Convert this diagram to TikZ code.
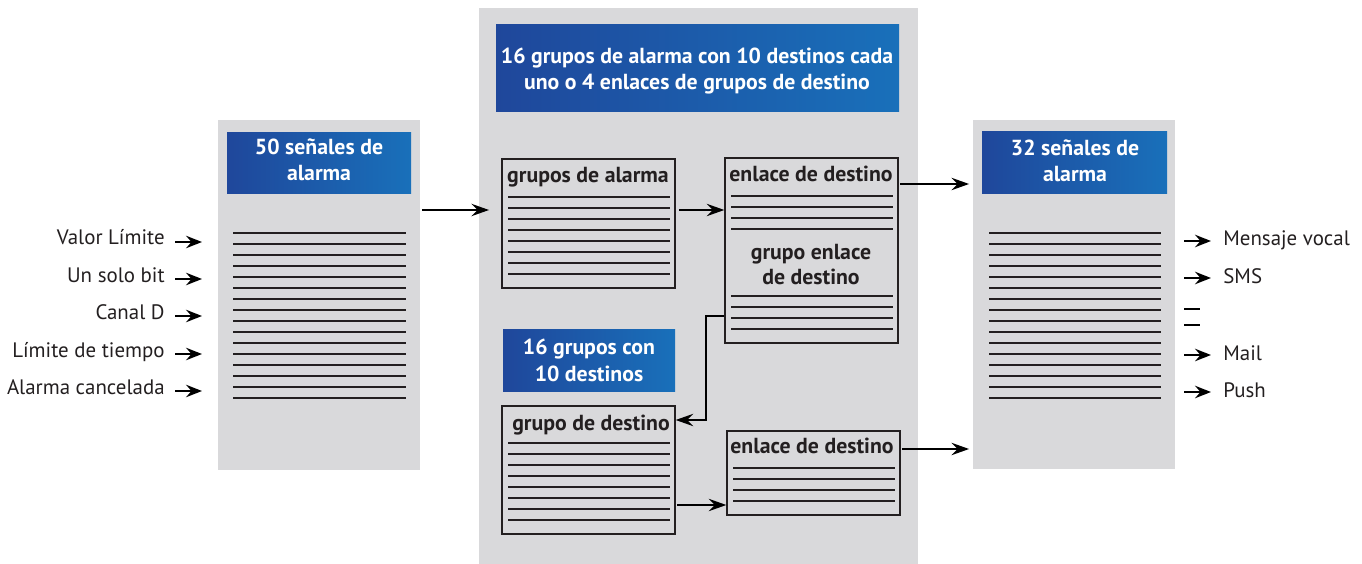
\documentclass[tikz,border=0pt]{standalone}
\usepackage{fontspec}
\setmainfont{PT Sans}
\usepackage{tikz}
\usetikzlibrary{arrows.meta,positioning,fit}
\definecolor{panelgray}{RGB}{217,217,219}
\definecolor{hdrdark}{RGB}{31,71,155}
\definecolor{hdrlight}{RGB}{25,112,186}
\definecolor{inkgray}{RGB}{35,31,32}
\tikzset{panel/.style={fill=panelgray,draw=none,inner sep=0},
    header/.style={left color=hdrdark,right color=hdrlight,draw=none,inner sep=0},
    headtext/.style={text=white,align=center,inner sep=0,anchor=base,
        font=\bfseries\fontsize{12.4}{15.2}\selectfont},
    listbox/.style={draw=inkgray,line width=0.75pt,inner sep=0},
    boxtitle/.style={text=inkgray,align=center,inner sep=0,anchor=base,
        font=\bfseries\fontsize{12.4}{14.2}\selectfont},
    sidelabel/.style={text=inkgray,inner sep=0,font=\fontsize{11.9}{14}\selectfont},
    ruling/.style={draw=inkgray,line width=0.6pt},
    flow/.style={-{Stealth[length=10pt,width=7pt,inset=3.5pt]},line width=1.5pt},
    tinyflow/.style={-{Stealth[length=9pt,width=7pt,inset=3pt]},line width=1.5pt}
}
\newcommand{\rulelines}[4]
{
% args: (number of lines, left x, right x, y of first line)
    \foreach \i [evaluate=\i as \yy using #4+11*(\i-1)] in {1,...,#1}
        \draw [ruling] (#2,\yy) -- (#3,\yy);
}

\begin{document}
\begin{tikzpicture}[x=0.02cm,y=-0.02cm]
\useasboundingbox (0,0) rectangle (1362,564);

% panels
\node [panel, fit={(218,120) (420,470)}] (inpanel) {};
\node [panel, fit={(479,8) (918,564)}] (midpanel) {};
\node [panel, fit={(973,120) (1175,469)}] (outpanel) {};

% headers
\node [header, fit={(227,133) (411,194)}] (inhead) {};
\node [header, fit={(496,25) (899,112)}] (midhead) {};
\node [header, fit={(503,329) (675,391)}] (grphead) {};
\node [header, fit={(982,132) (1167,194)}] (outhead) {};

\node [headtext] (inheadtext) at (319,181) {50 señales de\\alarma};
\node [headtext] (midheadtext) at (697,90) {16 grupos de alarma con 10 destinos cada\\uno o 4 enlaces de grupos de destino};
\node [headtext] (grpheadtext) at (589,381) {16 grupos con\\10 destinos};
\node [headtext] (outheadtext) at (1075,182) {32 señales de\\alarma};

% boxes
\node [listbox, fit={(502,159) (675,288)}] (grpalarm) {};
\node [listbox, fit={(725,158) (898,343)}] (enlacetop) {};
\node [listbox, fit={(502,406) (675,534)}] (grpdest) {};
\node [listbox, fit={(727,431) (900,515)}] (enlacelow) {};

\node [boxtitle] (grpalarmtitle) at (588,183) {grupos de alarma};
\node [boxtitle] (enlacetoptitle) at (811,182) {enlace de destino};
\node [boxtitle] (grpenlacetitle) at (811,284) {grupo enlace\\de destino};
\node [boxtitle] (grpdesttitle) at (591,430) {grupo de destino};
\node [boxtitle] (enlacelowtitle) at (812,453) {enlace de destino};

\rulelines{16}{233}{406}{233}
\rulelines{8}{508}{670}{197}
\rulelines{4}{731}{893}{196}
\rulelines{4}{731}{893}{296}
\rulelines{8}{508}{670}{443}
\rulelines{4}{733}{895}{468}
\rulelines{16}{989}{1161}{233}

% inputs and outputs
\foreach \y/\txt [count=\i] in {245/Valor Límite,282/Un solo bit,319/Canal D,357/Límite de tiempo,394/Alarma cancelada}
{
    \node [sidelabel, anchor=base east] (in\i) at (165,\y) {\txt};
    \draw [tinyflow] (in\i.base east) ++(10,-3) -- ++(27,0);
}
\foreach \y/\txt [count=\i] in {246/Mensaje vocal,283/SMS,360/Mail,397/Push}
{
    \node [sidelabel, anchor=base west] (out\i) at (1223,\y) {\txt};
    \draw [tinyflow] (out\i.base west) ++(-39,-5) -- ++(27,0);
}
\draw [line width=1.7pt] (1184,309) -- (1200,309);
\draw [line width=1.7pt] (1184,325) -- (1200,325);

% connectors
\coordinate (feedrow) at (0,210);
\coordinate (outrow) at (0,184);
\coordinate (bend) at (706,316);
\coordinate (lowrow) at (0,505);
\coordinate (lastrow) at (0,449);

\draw [flow,shorten <=1pt,shorten >=7pt] (inpanel.east |- feedrow) -- (grpalarm.west |- feedrow);
\draw [flow,shorten <=2pt] (grpalarm.east |- feedrow) -- (enlacetop.west |- feedrow);
\draw [flow,shorten <=1pt,shorten >=2pt] (enlacetop.east |- outrow) -- (outpanel.west |- outrow);
\draw [flow] (enlacetop.west |- bend) -- (bend) |- (grpdest.east |- 0,420);
\draw [flow,shorten <=1pt] (grpdest.east |- lowrow) -- (enlacelow.west |- lowrow);
\draw [flow,shorten <=1pt,shorten >=2pt] (enlacelow.east |- lastrow) -- (outpanel.west |- lastrow);

\end{tikzpicture}
\end{document}
